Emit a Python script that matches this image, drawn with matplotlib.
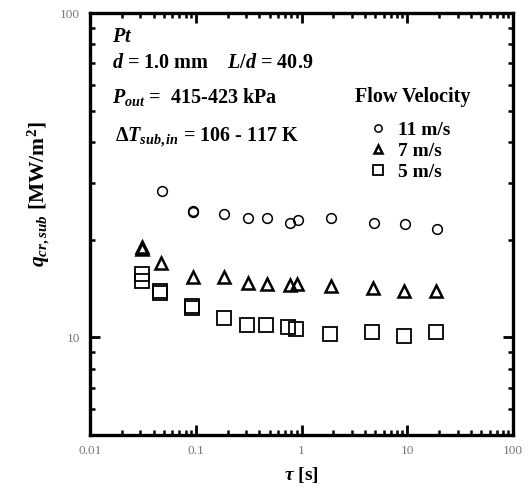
import matplotlib
matplotlib.use("Agg")
import matplotlib.pyplot as plt
from matplotlib.ticker import FixedLocator, FixedFormatter, LogLocator, NullFormatter

plt.rcParams["font.family"] = "Liberation Serif"
plt.rcParams["mathtext.fontset"] = "custom"
plt.rcParams["mathtext.rm"] = "Liberation Serif:bold"
plt.rcParams["mathtext.it"] = "Liberation Serif:italic:bold"
plt.rcParams["mathtext.bf"] = "Liberation Serif:bold"

# ---- data ----
tau_11 = [0.0477, 0.0948, 0.0948, 0.185, 0.31, 0.475, 0.779, 0.933, 1.89, 4.85, 9.6, 19.2]
q_11 = [28.3, 24.6, 24.3, 24.0, 23.4, 23.4, 22.6, 23.0, 23.4, 22.5, 22.4, 21.6]

tau_7 = [0.0308, 0.0308, 0.047, 0.0936, 0.185, 0.31, 0.47, 0.78, 0.91, 1.89, 4.71, 9.4, 18.9]
q_7 = [19.0, 18.7, 16.9, 15.4, 15.4, 14.75, 14.65, 14.5, 14.6, 14.4, 14.2, 13.9, 13.9]

tau_5 = [0.0308, 0.0308, 0.046, 0.046, 0.093, 0.093, 0.183, 0.307, 0.46, 0.75, 0.89, 1.86, 4.64, 9.3, 18.5]
q_5 = [15.7, 14.9, 13.9, 13.7, 12.5, 12.3, 11.5, 10.9, 10.9, 10.8, 10.6, 10.27, 10.4, 10.1, 10.4]

x_ticks = [0.01, 0.1, 1, 10, 100]
x_labels = ["0.01", "0.1", "1", "10", "100"]
y_ticks = [10, 100]
y_labels = ["10", "100"]

fig = plt.figure(figsize=(5.31, 4.97), dpi=100)
ax = fig.add_axes([90 / 531, 62 / 497, 423 / 531, 422 / 497])
ax.set_xscale("log")
ax.set_yscale("log")
ax.set_xlim(0.01, 100)
ax.set_ylim(5, 100)

ax.plot(tau_11, q_11, "o", ms=7, mfc="none", mec="black", mew=1.1, label="11 m/s")
ax.plot(tau_7, q_7, "^", ms=8, mfc="none", mec="black", mew=1.8, label="7 m/s")
ax.plot(tau_5, q_5, "s", ms=9.5, mfc="none", mec="black", mew=1.3, label="5 m/s")

# axes styling
for s in ax.spines.values():
    s.set_linewidth(2.4)
ax.xaxis.set_major_locator(FixedLocator(x_ticks))
ax.xaxis.set_major_formatter(FixedFormatter(x_labels))
ax.yaxis.set_major_locator(FixedLocator(y_ticks))
ax.yaxis.set_major_formatter(FixedFormatter(y_labels))
ax.xaxis.set_minor_locator(LogLocator(base=10, subs=range(2, 10)))
ax.yaxis.set_minor_locator(LogLocator(base=10, subs=range(2, 10)))
ax.xaxis.set_minor_formatter(NullFormatter())
ax.yaxis.set_minor_formatter(NullFormatter())
ax.tick_params(which="both", direction="in", top=True, right=True,
               labelsize=9.5, labelcolor="#777777", pad=7)
ax.tick_params(which="major", length=7, width=2)
ax.tick_params(which="minor", length=3.5, width=1.8)

ax.set_xlabel(r"$\tau$ [s]", fontsize=14, fontweight="bold", labelpad=6)
ax.set_ylabel(r"$q_{cr,sub}$ [MW/m$^{2}$]", fontsize=15.5, fontweight="bold")
ax.yaxis.set_label_coords(-0.09, 0.57)

# condition annotations
txt = dict(transform=ax.transAxes, fontsize=14.5, fontweight="bold", va="center", ha="left")
ax.text(0.052, 0.943, r"$Pt$", **txt)
ax.text(0.052, 0.882, r"$d$ = 1.0 mm    $L/d$ = 40.9", **txt)
ax.text(0.052, 0.801, r"$P_{out}$ =  415-423 kPa", **txt)
ax.text(0.058, 0.706, r"$\Delta T_{sub,in}$ = 106 - 117 K", **txt)

ax.text(0.626, 0.80, "Flow Velocity", transform=ax.transAxes, fontsize=14.5,
        fontweight="bold", va="center", ha="left")
leg = ax.legend(loc="upper left", bbox_to_anchor=(0.663, 0.743), frameon=False,
                fontsize=14, markerscale=0.75, handlelength=0.8, handletextpad=0.6,
                labelspacing=0.16, borderpad=0, borderaxespad=0)
for t in leg.get_texts():
    t.set_fontweight("bold")

fig.savefig("out.png", dpi=100)
